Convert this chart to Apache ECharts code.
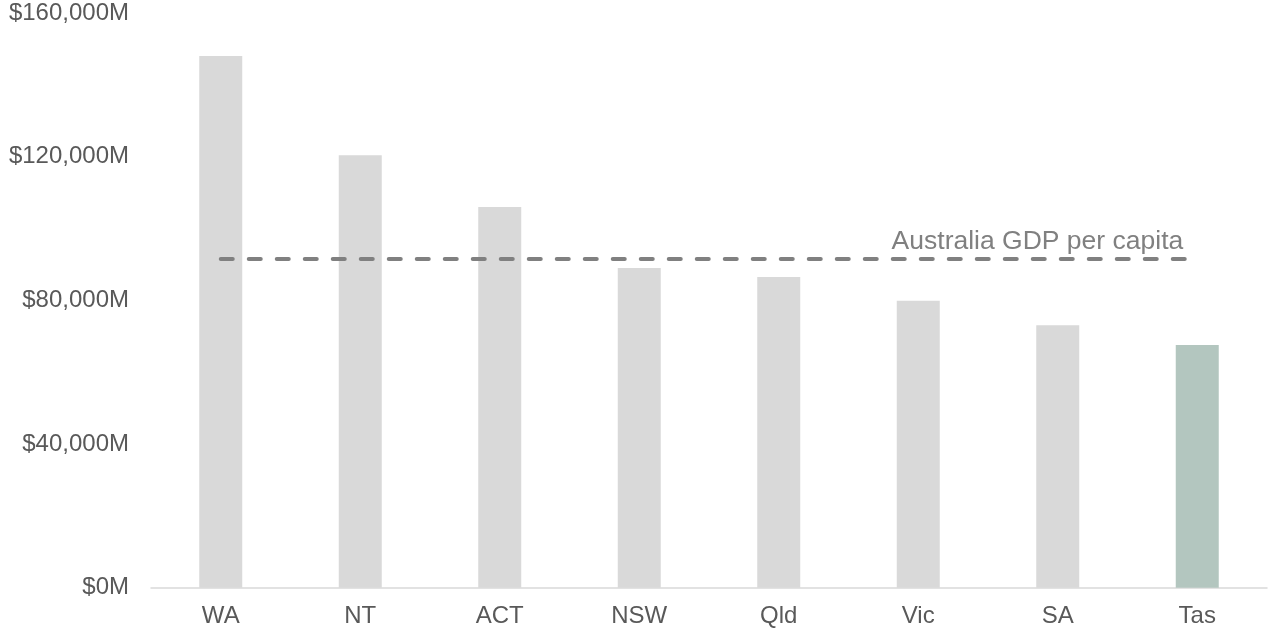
<!DOCTYPE html>
<html>
<head>
<meta charset="utf-8">
<script src="https://cdn.jsdelivr.net/npm/echarts@6/dist/echarts.min.js"></script>
<style>
html,body{margin:0;padding:0;background:#fff;}
#chart{width:1268px;height:632px;}
</style>
</head>
<body>
<div id="chart"></div>
<script>
const states = ['WA', 'NT', 'ACT', 'NSW', 'Qld', 'Vic', 'SA', 'Tas'];
const gdpPerCapita = [148000, 120400, 106000, 89000, 86500, 79900, 73100, 67600];
const highlightState = 'Tas';
const australiaGdpPerCapita = 91500;
const australiaLabel = 'Australia GDP per capita';
const yTicks = [0, 40000, 80000, 120000, 160000];

const FONT = '"Liberation Sans", Arial, sans-serif';
const chart = echarts.init(document.getElementById('chart'));
chart.setOption({
  animation: false,
  grid: { left: 151, right: 1, top: 13, bottom: 44.3, containLabel: false },
  xAxis: {
    type: 'category',
    data: states,
    axisLine: { show: true, lineStyle: { color: '#d9d9d9', width: 1.5 } },
    axisTick: { show: false },
    axisLabel: { color: '#595959', fontSize: 24, fontFamily: FONT, margin: 17 }
  },
  yAxis: {
    type: 'value',
    min: yTicks[0],
    max: yTicks[yTicks.length - 1],
    interval: yTicks[1] - yTicks[0],
    axisLine: { show: false },
    axisTick: { show: false },
    splitLine: { show: false },
    axisLabel: {
      color: '#595959', fontSize: 24, fontFamily: FONT, margin: 22,
      formatter: v => '$' + v.toLocaleString('en-US') + 'M'
    }
  },
  series: [{
    type: 'bar',
    barWidth: 43,
    data: states.map((s, i) => ({
      value: gdpPerCapita[i],
      itemStyle: { color: s === highlightState ? '#b3c6bf' : '#d9d9d9' }
    })),
    markLine: {
      symbol: 'none',
      silent: true,
      lineStyle: { color: '#808080', width: 4, type: [12, 16], cap: 'round' },
      label: {
        show: true,
        position: 'insideEndTop',
        formatter: australiaLabel,
        color: '#808080',
        fontSize: 26.5,
        fontFamily: FONT,
        distance: [14, 4]
      },
      data: [[
        { coord: [states[0], australiaGdpPerCapita] },
        { coord: [states[states.length - 1], australiaGdpPerCapita] }
      ]]
    }
  }]
});
</script>
</body>
</html>
